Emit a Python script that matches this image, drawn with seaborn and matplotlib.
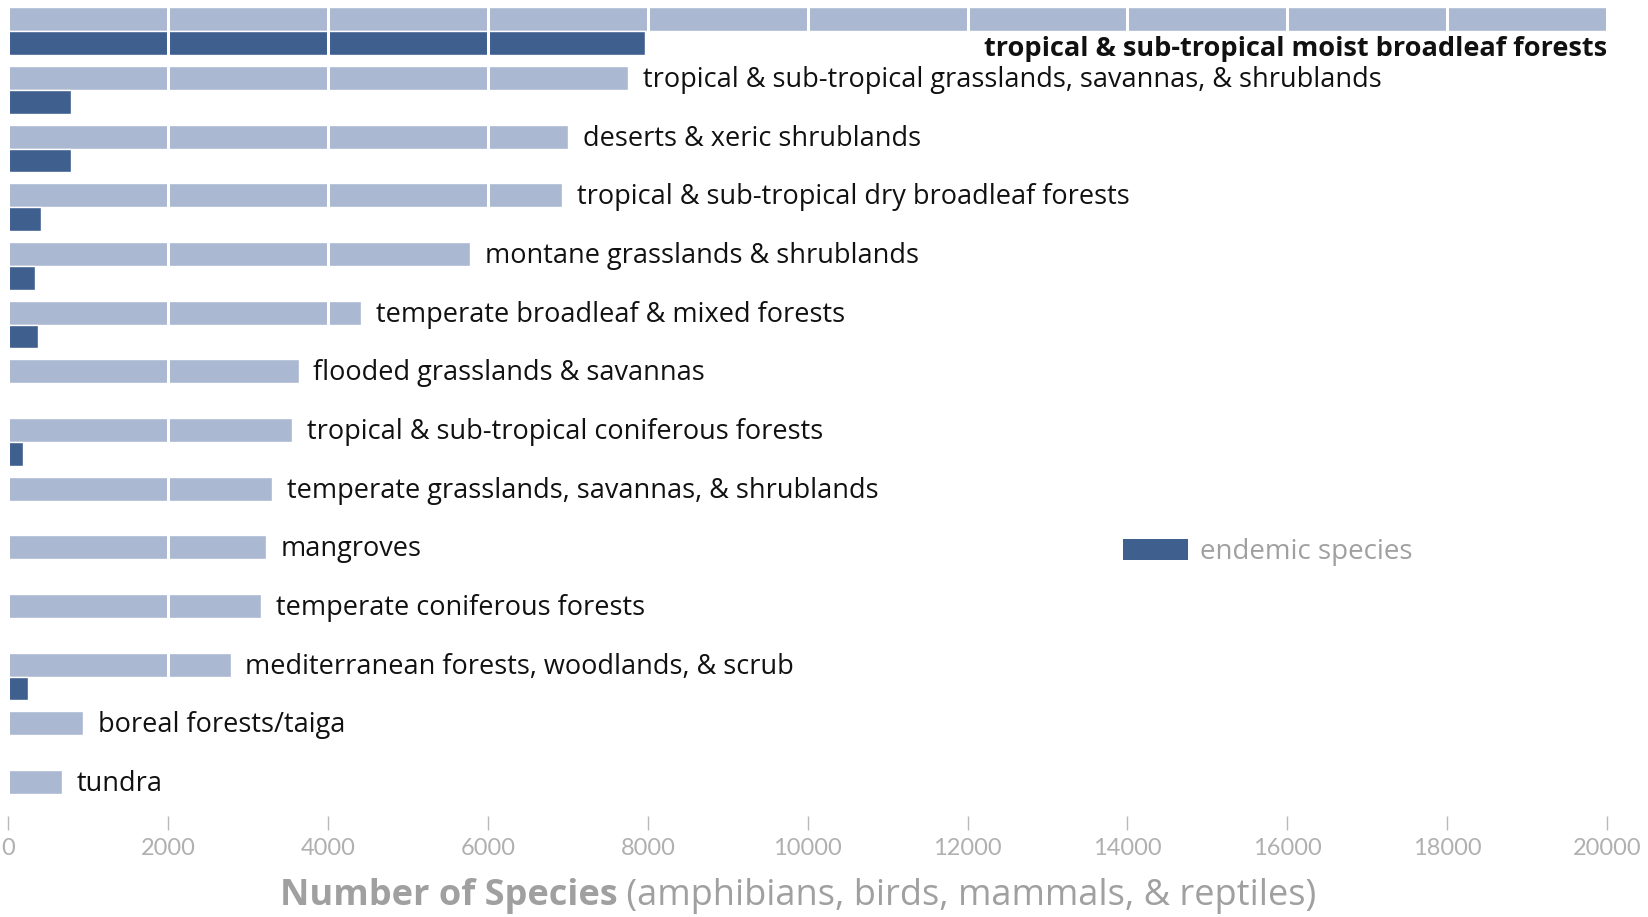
import pandas as pd
import matplotlib.pyplot as plt
import seaborn as sns
from matplotlib.patches import Patch

# biomes, top to bottom
biomes = [
    "tropical & sub-tropical moist broadleaf forests",
    "tropical & sub-tropical grasslands, savannas, & shrublands",
    "deserts & xeric shrublands",
    "tropical & sub-tropical dry broadleaf forests",
    "montane grasslands & shrublands",
    "temperate broadleaf & mixed forests",
    "flooded grasslands & savannas",
    "tropical & sub-tropical coniferous forests",
    "temperate grasslands, savannas, & shrublands",
    "mangroves",
    "temperate coniferous forests",
    "mediterranean forests, woodlands, & scrub",
    "boreal forests/taiga",
    "tundra",
]
total_species = [20000, 7750, 7000, 6930, 5780, 4410, 3630, 3550, 3300, 3220, 3160, 2780, 930, 670]
endemic_species = [7970, 780, 780, 410, 330, 370, 0, 180, 0, 0, 0, 250, 0, 0]
x_ticks = [0, 2000, 4000, 6000, 8000, 10000, 12000, 14000, 16000, 18000, 20000]

light = "#abb8d1"
dark = "#3f5f8f"
grey = "#a0a0a0"
label_font = ["Open Sans", "DejaVu Sans"]

df = pd.DataFrame({
    "biome": biomes * 2,
    "count": total_species + endemic_species,
    "kind": ["total"] * len(biomes) + ["endemic"] * len(biomes),
})

sns.set_style("white")
plt.rcParams["font.family"] = ["Lato", "DejaVu Sans"]

fig = plt.figure(figsize=(16.49, 9.17), dpi=100)
ax = fig.add_axes([0.0051, 0.110, 0.9694, 0.888])

sns.barplot(data=df, y="biome", x="count", hue="kind", hue_order=["total", "endemic"],
            order=biomes, orient="h", palette=[light, dark], width=0.81,
            saturation=1, dodge=True, legend=False, ax=ax)

ax.set_xlim(0, 20000)
ax.set_ylim(13.38, -0.5)
ax.set_xticks(x_ticks)
ax.set_xticklabels([str(t) for t in x_ticks])
ax.set_yticks([])
ax.set_ylabel("")
ax.set_xlabel("")

# white grid lines cut through the bars
ax.set_axisbelow(False)
ax.grid(axis="x", color="white", linewidth=2.2)
ax.grid(axis="y", visible=False)
for s in ax.spines.values():
    s.set_visible(False)
ax.tick_params(axis="x", length=10, width=1, color="#b8b8b8", labelcolor="#b0b0b0",
               labelsize=17, pad=6, bottom=True)

# labels next to the bars
for i, (name, tot) in enumerate(zip(biomes, total_species)):
    if i == 0:
        ax.text(20000, 0.31, name, ha="right", va="center", fontsize=19.5,
                fontweight="bold", color="#111111", family=label_font)
    else:
        ax.text(tot + 185, i - 0.165, name, ha="left", va="center", fontsize=19.5,
                color="#111111", family=label_font)

ax.legend(handles=[Patch(facecolor=dark, edgecolor="none", label="endemic species")],
          loc="center left", bbox_to_anchor=(0.697, 0.324), frameon=False,
          prop={"family": label_font, "size": 20}, labelcolor=grey,
          handlelength=2.35, handleheight=0.8, handletextpad=0.44,
          borderpad=0, borderaxespad=0)

t1 = ax.text(0.381, -0.098, "Number of Species", transform=ax.transAxes,
             ha="right", va="center", fontsize=26, fontweight="bold", color=grey,
             family=label_font)
ax.annotate(" (amphibians, birds, mammals, & reptiles)", xy=(1, 0), xycoords=t1,
            ha="left", va="bottom", fontsize=26, color=grey, family=label_font)

fig.savefig("out.png", dpi=100)
